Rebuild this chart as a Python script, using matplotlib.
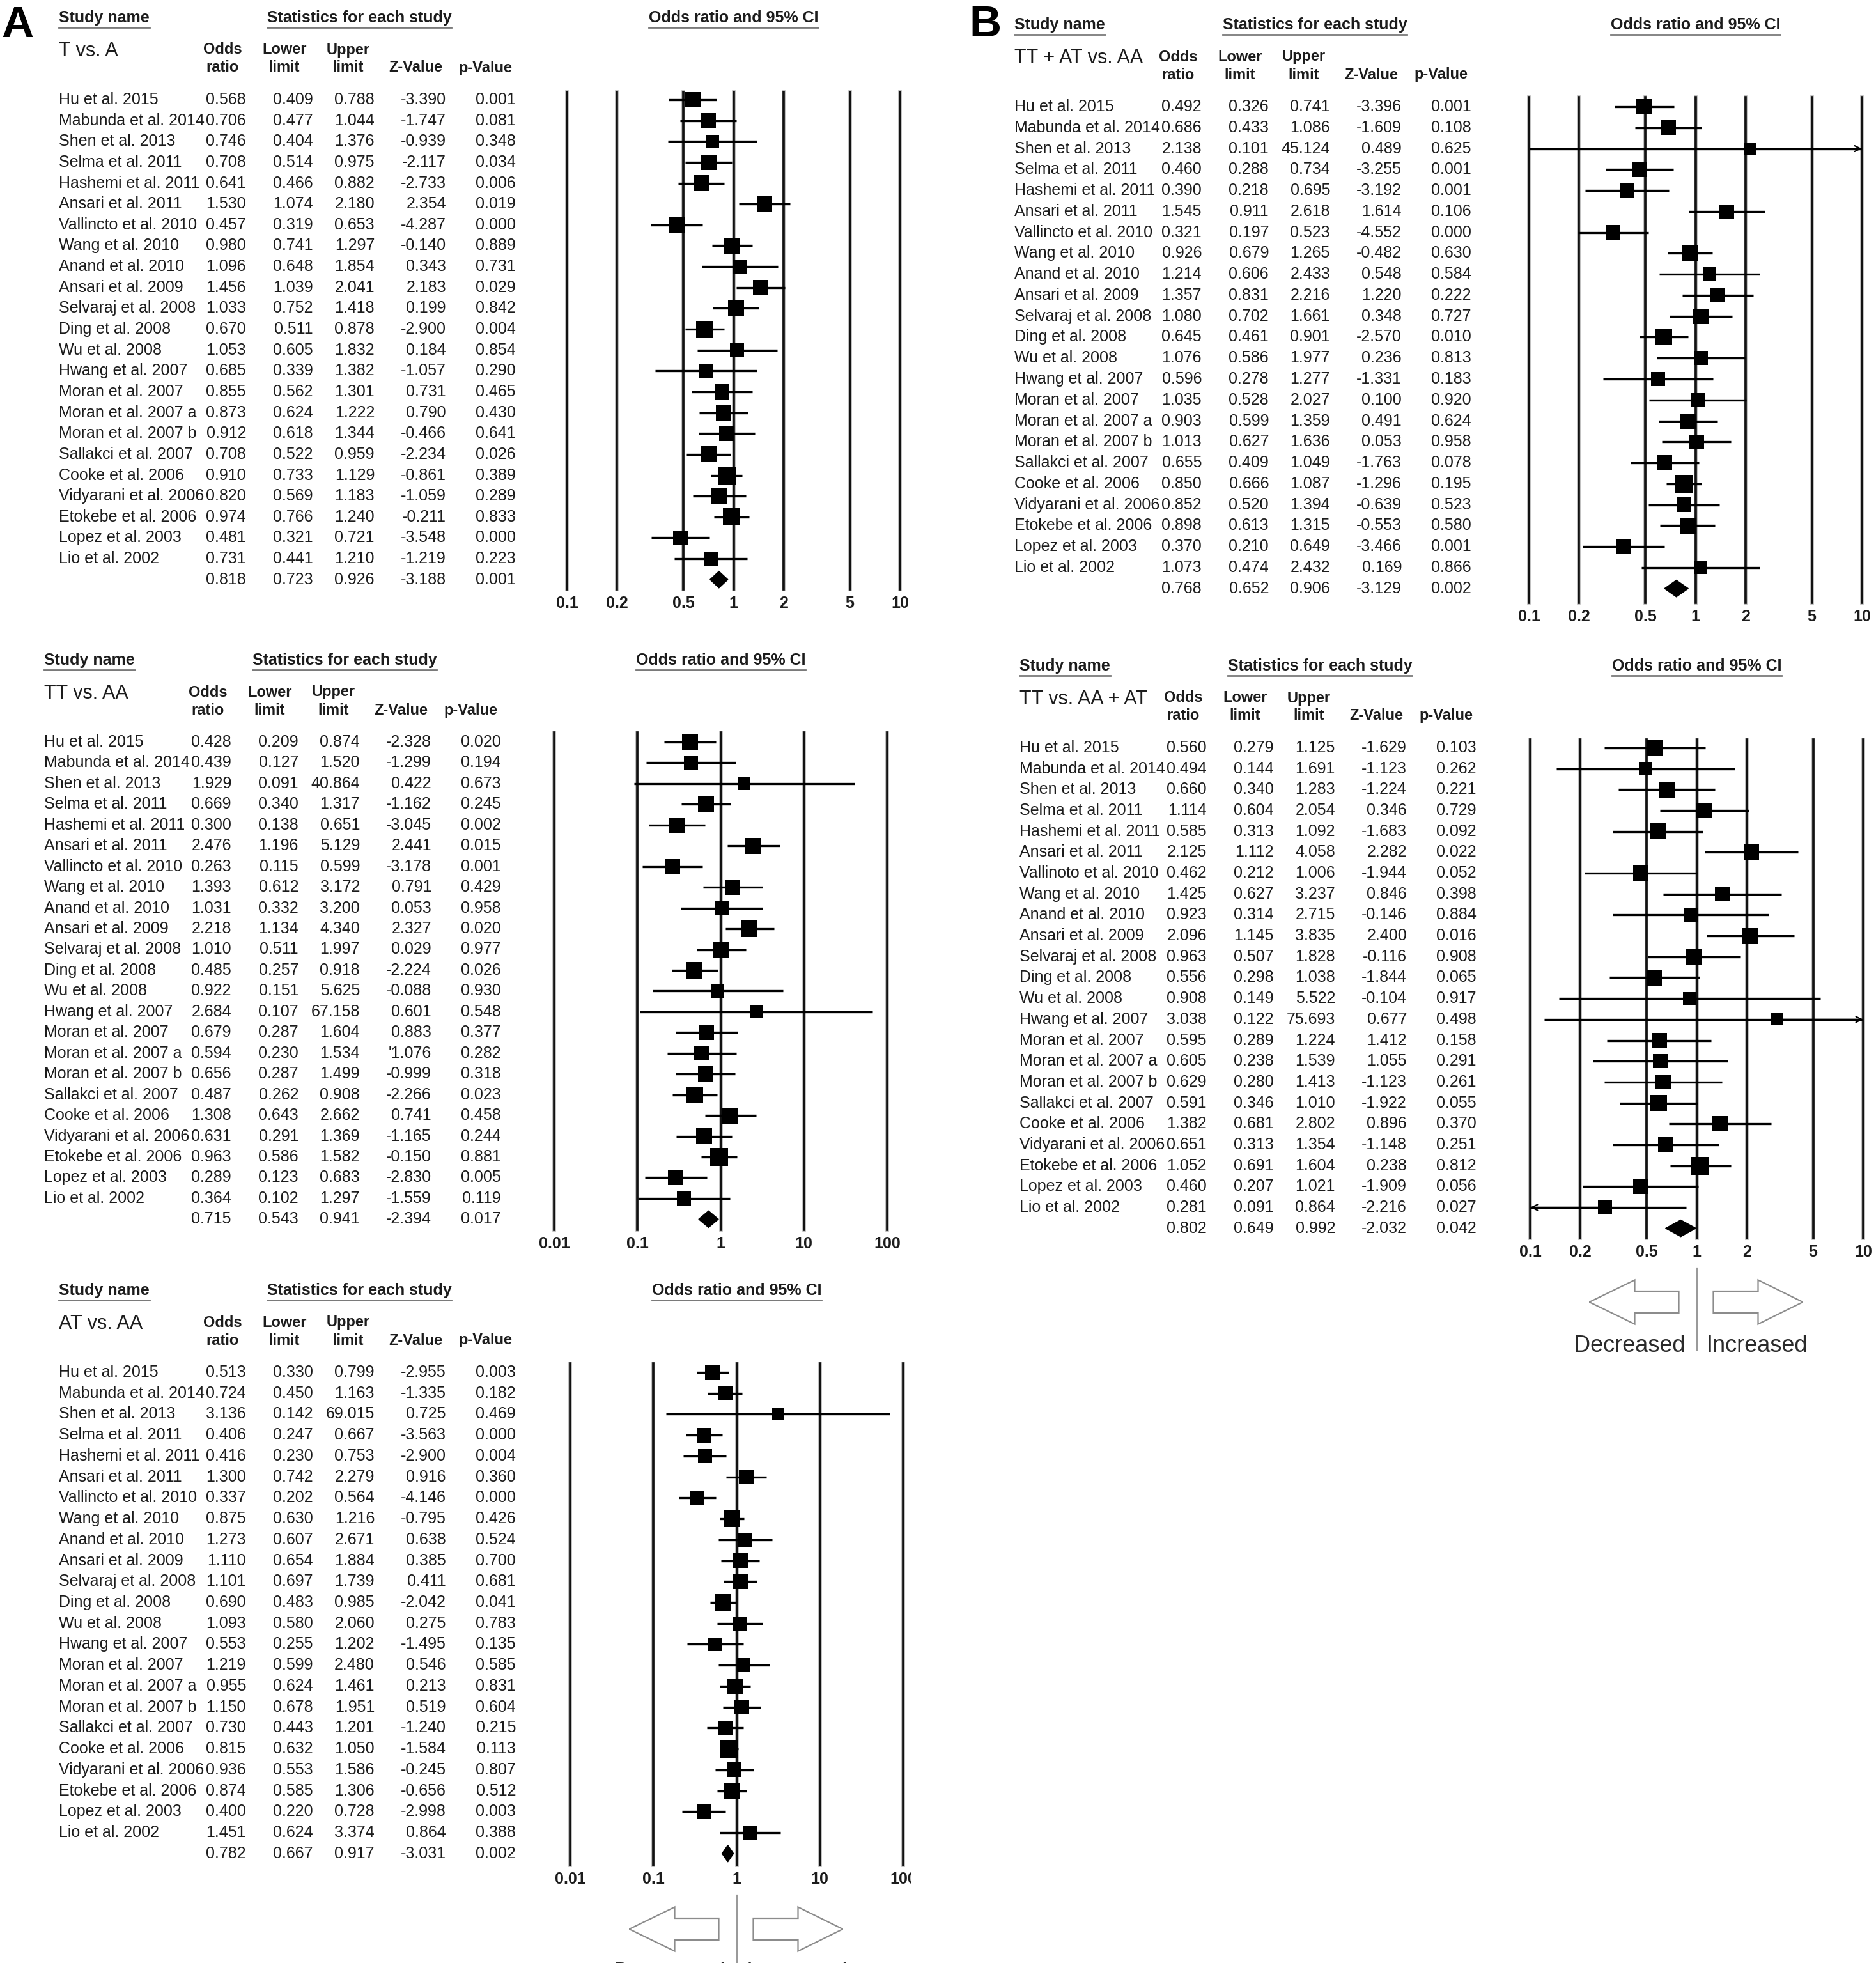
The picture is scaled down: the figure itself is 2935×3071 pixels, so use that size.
import numpy as np
import matplotlib
matplotlib.use("Agg")
import matplotlib.pyplot as plt
from matplotlib.patches import Polygon
from matplotlib.lines import Line2D
from matplotlib.transforms import Bbox

W, H = 2935, 3071
DPI = 100
plt.rcParams['font.family'] = ['Liberation Sans', 'DejaVu Sans']

# ------------------------------------------------------------------ data
study_names = ["Hu et al. 2015", "Mabunda et al. 2014", "Shen et al. 2013", "Selma et al. 2011",
               "Hashemi et al. 2011", "Ansari et al. 2011", "Vallincto et al. 2010", "Wang et al. 2010",
               "Anand et al. 2010", "Ansari et al. 2009", "Selvaraj et al. 2008", "Ding et al. 2008",
               "Wu et al. 2008", "Hwang et al. 2007", "Moran et al. 2007", "Moran et al. 2007 a",
               "Moran et al. 2007 b", "Sallakci et al. 2007", "Cooke et al. 2006", "Vidyarani et al. 2006",
               "Etokebe et al. 2006", "Lopez et al. 2003", "Lio et al. 2002"]
study_names_b2 = ["Hu et al. 2015", "Mabunda et al. 2014", "Shen et al. 2013", "Selma et al. 2011",
                  "Hashemi et al. 2011", "Ansari et al. 2011", "Vallinoto et al. 2010", "Wang et al. 2010",
                  "Anand et al. 2010", "Ansari et al. 2009", "Selvaraj et al. 2008", "Ding et al. 2008",
                  "Wu et al. 2008", "Hwang et al. 2007", "Moran et al. 2007", "Moran et al. 2007 a",
                  "Moran et al. 2007 b", "Sallakci et al. 2007", "Cooke et al. 2006", "Vidyarani et al. 2006",
                  "Etokebe et al. 2006", "Lopez et al. 2003", "Lio et al. 2002"]

# T vs. A
tva_or = [0.568, 0.706, 0.746, 0.708, 0.641, 1.530, 0.457, 0.980, 1.096, 1.456, 1.033, 0.670,
          1.053, 0.685, 0.855, 0.873, 0.912, 0.708, 0.910, 0.820, 0.974, 0.481, 0.731]
tva_lower = [0.409, 0.477, 0.404, 0.514, 0.466, 1.074, 0.319, 0.741, 0.648, 1.039, 0.752, 0.511,
             0.605, 0.339, 0.562, 0.624, 0.618, 0.522, 0.733, 0.569, 0.766, 0.321, 0.441]
tva_upper = [0.788, 1.044, 1.376, 0.975, 0.882, 2.180, 0.653, 1.297, 1.854, 2.041, 1.418, 0.878,
             1.832, 1.382, 1.301, 1.222, 1.344, 0.959, 1.129, 1.183, 1.240, 0.721, 1.210]
tva_z = ["-3.390", "-1.747", "-0.939", "-2.117", "-2.733", "2.354", "-4.287", "-0.140", "0.343", "2.183",
         "0.199", "-2.900", "0.184", "-1.057", "0.731", "0.790", "-0.466", "-2.234", "-0.861", "-1.059",
         "-0.211", "-3.548", "-1.219"]
tva_p = ["0.001", "0.081", "0.348", "0.034", "0.006", "0.019", "0.000", "0.889", "0.731", "0.029",
         "0.842", "0.004", "0.854", "0.290", "0.465", "0.430", "0.641", "0.026", "0.389", "0.289",
         "0.833", "0.000", "0.223"]
tva_summary = [0.818, 0.723, 0.926, "-3.188", "0.001"]

# TT vs. AA
ttaa_or = [0.428, 0.439, 1.929, 0.669, 0.300, 2.476, 0.263, 1.393, 1.031, 2.218, 1.010, 0.485,
           0.922, 2.684, 0.679, 0.594, 0.656, 0.487, 1.308, 0.631, 0.963, 0.289, 0.364]
ttaa_lower = [0.209, 0.127, 0.091, 0.340, 0.138, 1.196, 0.115, 0.612, 0.332, 1.134, 0.511, 0.257,
              0.151, 0.107, 0.287, 0.230, 0.287, 0.262, 0.643, 0.291, 0.586, 0.123, 0.102]
ttaa_upper = [0.874, 1.520, 40.864, 1.317, 0.651, 5.129, 0.599, 3.172, 3.200, 4.340, 1.997, 0.918,
              5.625, 67.158, 1.604, 1.534, 1.499, 0.908, 2.662, 1.369, 1.582, 0.683, 1.297]
ttaa_z = ["-2.328", "-1.299", "0.422", "-1.162", "-3.045", "2.441", "-3.178", "0.791", "0.053", "2.327",
          "0.029", "-2.224", "-0.088", "0.601", "0.883", "'1.076", "-0.999", "-2.266", "0.741", "-1.165",
          "-0.150", "-2.830", "-1.559"]
ttaa_p = ["0.020", "0.194", "0.673", "0.245", "0.002", "0.015", "0.001", "0.429", "0.958", "0.020",
          "0.977", "0.026", "0.930", "0.548", "0.377", "0.282", "0.318", "0.023", "0.458", "0.244",
          "0.881", "0.005", "0.119"]
ttaa_summary = [0.715, 0.543, 0.941, "-2.394", "0.017"]

# AT vs. AA
ataa_or = [0.513, 0.724, 3.136, 0.406, 0.416, 1.300, 0.337, 0.875, 1.273, 1.110, 1.101, 0.690,
           1.093, 0.553, 1.219, 0.955, 1.150, 0.730, 0.815, 0.936, 0.874, 0.400, 1.451]
ataa_lower = [0.330, 0.450, 0.142, 0.247, 0.230, 0.742, 0.202, 0.630, 0.607, 0.654, 0.697, 0.483,
              0.580, 0.255, 0.599, 0.624, 0.678, 0.443, 0.632, 0.553, 0.585, 0.220, 0.624]
ataa_upper = [0.799, 1.163, 69.015, 0.667, 0.753, 2.279, 0.564, 1.216, 2.671, 1.884, 1.739, 0.985,
              2.060, 1.202, 2.480, 1.461, 1.951, 1.201, 1.050, 1.586, 1.306, 0.728, 3.374]
ataa_z = ["-2.955", "-1.335", "0.725", "-3.563", "-2.900", "0.916", "-4.146", "-0.795", "0.638", "0.385",
          "0.411", "-2.042", "0.275", "-1.495", "0.546", "0.213", "0.519", "-1.240", "-1.584", "-0.245",
          "-0.656", "-2.998", "0.864"]
ataa_p = ["0.003", "0.182", "0.469", "0.000", "0.004", "0.360", "0.000", "0.426", "0.524", "0.700",
          "0.681", "0.041", "0.783", "0.135", "0.585", "0.831", "0.604", "0.215", "0.113", "0.807",
          "0.512", "0.003", "0.388"]
ataa_summary = [0.782, 0.667, 0.917, "-3.031", "0.002"]

# TT + AT vs. AA
dom_or = [0.492, 0.686, 2.138, 0.460, 0.390, 1.545, 0.321, 0.926, 1.214, 1.357, 1.080, 0.645,
          1.076, 0.596, 1.035, 0.903, 1.013, 0.655, 0.850, 0.852, 0.898, 0.370, 1.073]
dom_lower = [0.326, 0.433, 0.101, 0.288, 0.218, 0.911, 0.197, 0.679, 0.606, 0.831, 0.702, 0.461,
             0.586, 0.278, 0.528, 0.599, 0.627, 0.409, 0.666, 0.520, 0.613, 0.210, 0.474]
dom_upper = [0.741, 1.086, 45.124, 0.734, 0.695, 2.618, 0.523, 1.265, 2.433, 2.216, 1.661, 0.901,
             1.977, 1.277, 2.027, 1.359, 1.636, 1.049, 1.087, 1.394, 1.315, 0.649, 2.432]
dom_z = ["-3.396", "-1.609", "0.489", "-3.255", "-3.192", "1.614", "-4.552", "-0.482", "0.548", "1.220",
         "0.348", "-2.570", "0.236", "-1.331", "0.100", "0.491", "0.053", "-1.763", "-1.296", "-0.639",
         "-0.553", "-3.466", "0.169"]
dom_p = ["0.001", "0.108", "0.625", "0.001", "0.001", "0.106", "0.000", "0.630", "0.584", "0.222",
         "0.727", "0.010", "0.813", "0.183", "0.920", "0.624", "0.958", "0.078", "0.195", "0.523",
         "0.580", "0.001", "0.866"]
dom_summary = [0.768, 0.652, 0.906, "-3.129", "0.002"]

# TT vs. AA + AT
rec_or = [0.560, 0.494, 0.660, 1.114, 0.585, 2.125, 0.462, 1.425, 0.923, 2.096, 0.963, 0.556,
          0.908, 3.038, 0.595, 0.605, 0.629, 0.591, 1.382, 0.651, 1.052, 0.460, 0.281]
rec_lower = [0.279, 0.144, 0.340, 0.604, 0.313, 1.112, 0.212, 0.627, 0.314, 1.145, 0.507, 0.298,
             0.149, 0.122, 0.289, 0.238, 0.280, 0.346, 0.681, 0.313, 0.691, 0.207, 0.091]
rec_upper = [1.125, 1.691, 1.283, 2.054, 1.092, 4.058, 1.006, 3.237, 2.715, 3.835, 1.828, 1.038,
             5.522, 75.693, 1.224, 1.539, 1.413, 1.010, 2.802, 1.354, 1.604, 1.021, 0.864]
rec_z = ["-1.629", "-1.123", "-1.224", "0.346", "-1.683", "2.282", "-1.944", "0.846", "-0.146", "2.400",
         "-0.116", "-1.844", "-0.104", "0.677", "1.412", "1.055", "-1.123", "-1.922", "0.896", "-1.148",
         "0.238", "-1.909", "-2.216"]
rec_p = ["0.103", "0.262", "0.221", "0.729", "0.092", "0.022", "0.052", "0.398", "0.884", "0.016",
         "0.908", "0.065", "0.917", "0.498", "0.158", "0.291", "0.261", "0.055", "0.370", "0.251",
         "0.812", "0.056", "0.027"]
rec_summary = [0.802, 0.649, 0.992, "-2.032", "0.042"]

ticks_narrow = [0.1, 0.2, 0.5, 1, 2, 5, 10]
ticklabels_narrow = ["0.1", "0.2", "0.5", "1", "2", "5", "10"]
ticks_wide = [0.01, 0.1, 1, 10, 100]
ticklabels_wide = ["0.01", "0.1", "1", "10", "100"]

col_headers_top = ["Odds", "Lower", "Upper"]
col_headers_bottom = ["ratio", "limit", "limit", "Z-Value", "p-Value"]

# ------------------------------------------------------------------ layout / style
TC = "#1c1c1c"
FS = 18
FW = 521                    # forest plot width (px)
HDR_OFF = [256, 353, 453, 558, 667]
COL_RIGHT = [293, 398, 494, 606, 715]
LW_V = 2.6
LW_CI = 2.4

panels = [
    dict(label="T vs. A", names=study_names, orr=tva_or, lo=tva_lower, hi=tva_upper, z=tva_z, p=tva_p,
         summ=tva_summary, name_x=92, hu=156, rh=32.64, fl=887, lt=144, lb=922,
         xlim=(0.1, 10), ticks=ticks_narrow, tl=ticklabels_narrow, arrows=False, clip_last=False),
    dict(label="TT vs. AA", names=study_names, orr=ttaa_or, lo=ttaa_lower, hi=ttaa_upper, z=ttaa_z, p=ttaa_p,
         summ=ttaa_summary, name_x=69, hu=1161, rh=32.45, fl=867, lt=1146, lb=1924,
         xlim=(0.01, 100), ticks=ticks_wide, tl=ticklabels_wide, arrows=False, clip_last=False),
    dict(label="AT vs. AA", names=study_names, orr=ataa_or, lo=ataa_lower, hi=ataa_upper, z=ataa_z, p=ataa_p,
         summ=ataa_summary, name_x=92, hu=2147, rh=32.73, fl=892, lt=2133, lb=2918,
         xlim=(0.01, 100), ticks=ticks_wide, tl=ticklabels_wide, arrows=True, clip_last=True),
    dict(label="TT + AT vs. AA", names=study_names, orr=dom_or, lo=dom_lower, hi=dom_upper, z=dom_z, p=dom_p,
         summ=dom_summary, name_x=1587, hu=167, rh=32.77, fl=2392, lt=152, lb=943,
         xlim=(0.1, 10), ticks=ticks_narrow, tl=ticklabels_narrow, arrows=False, clip_last=False),
    dict(label="TT vs. AA + AT", names=study_names_b2, orr=rec_or, lo=rec_lower, hi=rec_upper, z=rec_z, p=rec_p,
         summ=rec_summary, name_x=1595, hu=1170, rh=32.68, fl=2394, lt=1157, lb=1937,
         xlim=(0.1, 10), ticks=ticks_narrow, tl=ticklabels_narrow, arrows=True, clip_last=False),
]

fig = plt.figure(figsize=(W / DPI, H / DPI), dpi=DPI)
fig.patch.set_facecolor("white")


def fx(x):
    return x / W


def fy(y):
    return 1 - y / H


underline_targets = []


def draw_panel(pp):
    nx, hu, rh = pp["name_x"], pp["hu"], pp["rh"]
    n = len(pp["names"])
    # titles
    ty = hu - 128
    for s, x, ha in [("Study name", nx, "left"), ("Statistics for each study", nx + 470, "center"),
                     ("Odds ratio and 95% CI", pp["fl"] + FW / 2, "center")]:
        t = fig.text(fx(x), fy(ty), s, ha=ha, va="center", fontsize=FS, fontweight="bold", color=TC)
        underline_targets.append((t, ty + 15))
    fig.text(fx(nx), fy(hu - 76), pp["label"], ha="left", va="center", fontsize=22, color=TC)
    for k, s in enumerate(col_headers_top):
        fig.text(fx(nx + HDR_OFF[k]), fy(hu - 78), s, ha="center", va="center", fontsize=17,
                 fontweight="bold", color=TC)
    for k, s in enumerate(col_headers_bottom):
        fig.text(fx(nx + HDR_OFF[k]), fy(hu - 50), s, ha="center", va="center", fontsize=17,
                 fontweight="bold", color=TC)
    # table rows
    for i in range(n):
        y = hu + i * rh
        fig.text(fx(nx), fy(y), pp["names"][i], ha="left", va="center", fontsize=FS, color=TC)
        vals = [f"{pp['orr'][i]:.3f}", f"{pp['lo'][i]:.3f}", f"{pp['hi'][i]:.3f}", pp["z"][i], pp["p"][i]]
        for k, s in enumerate(vals):
            fig.text(fx(nx + COL_RIGHT[k]), fy(y), s, ha="right", va="center", fontsize=FS, color=TC)
    y = hu + n * rh
    sm = pp["summ"]
    for k, s in enumerate([f"{sm[0]:.3f}", f"{sm[1]:.3f}", f"{sm[2]:.3f}", sm[3], sm[4]]):
        fig.text(fx(nx + COL_RIGHT[k]), fy(y), s, ha="right", va="center", fontsize=FS, color=TC)

    # forest plot
    lt, lb = pp["lt"], pp["lb"]
    ax = fig.add_axes([fx(pp["fl"]), fy(lb), FW / W, (lb - lt) / H])
    ax.set_xscale("log")
    xmin, xmax = pp["xlim"]
    ax.set_xlim(xmin, xmax)
    ax.set_ylim((lb - hu) / rh, (lt - hu) / rh)
    ax.axis("off")
    for t in pp["ticks"]:
        ax.axvline(t, color="#b0b0b0", lw=LW_V + 1.4, clip_on=False, zorder=0.5)
        ax.axvline(t, color="#111111", lw=LW_V, clip_on=False, zorder=1)
    rows = np.arange(n)
    orr = np.array(pp["orr"])
    lo = np.array(pp["lo"])
    hi = np.array(pp["hi"])
    lo_c = np.clip(lo, xmin, xmax)
    hi_c = np.clip(hi, xmin, xmax)
    ax.hlines(rows, lo_c, hi_c, color="black", lw=LW_CI, zorder=2)
    for i in range(n):
        if hi[i] > xmax:
            ax.annotate("", xy=(xmax, i), xytext=(orr[i], i),
                        arrowprops=dict(arrowstyle="->", lw=1.6, color="black", shrinkA=0, shrinkB=0,
                                        mutation_scale=16))
        if lo[i] < xmin:
            ax.annotate("", xy=(xmin, i), xytext=(orr[i], i),
                        arrowprops=dict(arrowstyle="->", lw=1.6, color="black", shrinkA=0, shrinkB=0,
                                        mutation_scale=16))
    se = (np.log(hi) - np.log(lo)) / 3.92
    w = 1 / se ** 2
    side_px = 18 + 10 * np.sqrt(w / w.max())
    side_pt = side_px * 72 / DPI
    ax.scatter(orr, rows, s=side_pt ** 2, marker="s", color="black", linewidths=0, zorder=3, clip_on=False)
    h = 0.4
    diamond = Polygon([(sm[1], n), (sm[0], n - h), (sm[2], n), (sm[0], n + h)], closed=True,
                      facecolor="black", edgecolor="black", lw=1, zorder=3)
    ax.add_patch(diamond)
    ylab = -22 / (lb - lt)
    for k, (t, s) in enumerate(zip(pp["ticks"], pp["tl"])):
        tx = ax.text(t, ylab, s, transform=ax.get_xaxis_transform(), ha="center", va="center",
                     fontsize=FS, fontweight="bold", color=TC, clip_on=False)
        if pp["clip_last"] and k == len(pp["ticks"]) - 1:
            tx.set_clip_box(Bbox.from_extents(0, 0, pp["fl"] + FW + 13, H))
            tx.set_clip_on(True)

    if pp["arrows"]:
        cx = pp["fl"] + FW * (np.log(1) - np.log(xmin)) / (np.log(xmax) - np.log(xmin))
        cy = lb + 100
        ec = "#8c8c8c"
        left = [(cx - 168, cy), (cx - 97, cy - 34.5), (cx - 97, cy - 17), (cx - 28, cy - 17),
                (cx - 28, cy + 17), (cx - 97, cy + 17), (cx - 97, cy + 34.5)]
        right = [(cx + 166, cy), (cx + 96, cy - 34.5), (cx + 96, cy - 17), (cx + 26, cy - 17),
                 (cx + 26, cy + 17), (cx + 96, cy + 17), (cx + 96, cy + 34.5)]
        for pts in (left, right):
            fig.add_artist(Polygon([(fx(a), fy(b)) for a, b in pts], closed=True, transform=fig.transFigure,
                                   facecolor="white", edgecolor=ec, lw=1.6))
        fig.add_artist(Line2D([fx(cx), fx(cx)], [fy(lb + 47), fy(lb + 175)], transform=fig.transFigure,
                              color="#9a9a9a", lw=1.6))
        fig.text(fx(cx - 18), fy(cy + 78), "Decreased", ha="right", va="baseline", fontsize=26, color="#2a2a2a")
        fig.text(fx(cx + 15), fy(cy + 78), "Increased", ha="left", va="baseline", fontsize=26, color="#2a2a2a")


for pp in panels:
    draw_panel(pp)

fig.text(fx(2), fy(58), "A", ha="left", va="baseline", fontsize=50, fontweight="bold", color="black")
fig.text(fx(1516), fy(57), "B", ha="left", va="baseline", fontsize=50, fontweight="bold", color="black")

# underlines for the section titles
fig.canvas.draw()
renderer = fig.canvas.get_renderer()
for t, uy in underline_targets:
    bb = t.get_window_extent(renderer)
    fig.add_artist(Line2D([bb.x0 / W, bb.x1 / W], [fy(uy), fy(uy)], transform=fig.transFigure,
                          color="#7a7a7a", lw=2.0))

fig.savefig("out.png", dpi=DPI, facecolor="white")
